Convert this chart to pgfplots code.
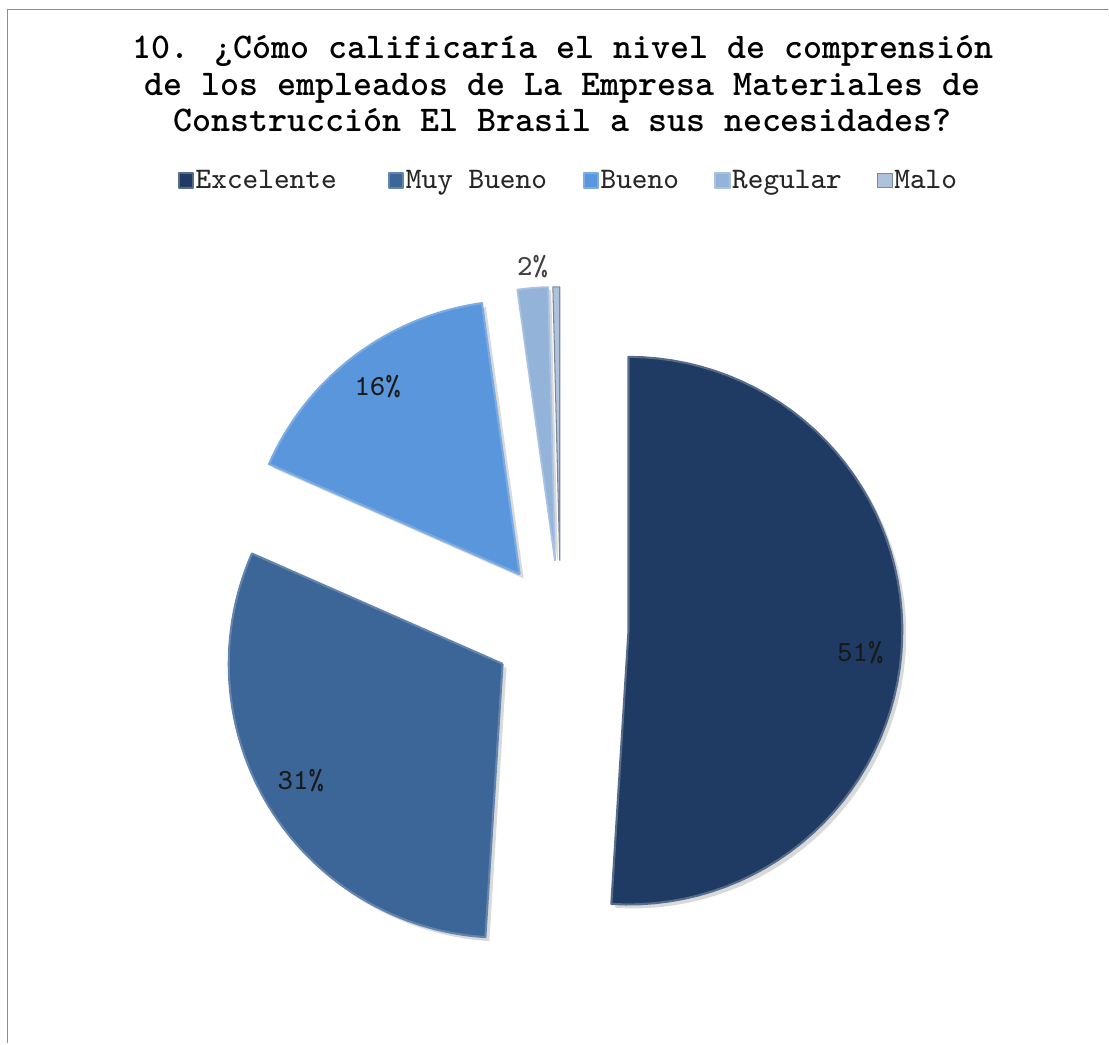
\documentclass[border=0pt]{standalone}
\usepackage{pgfplots}
\pgfplotsset{compat=1.18}
\usepackage{fontspec}
\definecolor{cExc}{HTML}{1F3B63}
\definecolor{cMB}{HTML}{3C6598}
\definecolor{cBue}{HTML}{5A96DC}
\definecolor{cReg}{HTML}{94B3D9}
\definecolor{cMalo}{HTML}{AFC2DC}
% data (percent)
\def\vExc{51.0}
\def\vMB{30.6}
\def\vBue{16.2}
\def\vReg{1.8}
\def\vMalo{0.4}
\pgfmathsetmacro\aA{0}
\pgfmathsetmacro\aB{\aA+3.6*\vExc}
\pgfmathsetmacro\aC{\aB+3.6*\vMB}
\pgfmathsetmacro\aD{\aC+3.6*\vBue}
\pgfmathsetmacro\aE{\aD+3.6*\vReg}
\pgfmathsetmacro\aF{\aE+3.6*\vMalo}
\newcommand\lblfont{\ttfamily\fontsize{8.3}{9}\selectfont}
\begin{document}
\begin{tikzpicture}
\begin{axis}[
  scale only axis, width=110.9mm, height=104.4mm,
  xmin=0, xmax=1109, ymin=0, ymax=1044, y dir=reverse,
  hide axis, clip=false,
  declare function={
    th(\t,\s,\e)=\s+(min(max(\t,1),61)-1)*(\e-\s)/60;
    rr(\t)=274*(\t>0.5)*(\t<61.5);
    px(\t,\s,\e,\o)=561+\o+68*sin((\s+\e)/2)+rr(\t)*sin(th(\t,\s,\e));
    py(\t,\s,\e,\o)=629+\o-68*cos((\s+\e)/2)-rr(\t)*cos(th(\t,\s,\e));
  },
  legend columns=5,
  legend style={at={(axis cs:568.5,182)}, anchor=center, draw=none, fill=none,
    font=\ttfamily\fontsize{8.5}{9}\selectfont, text=black!85,
    /tikz/every even column/.append style={column sep=3.4mm},
    inner sep=0pt, nodes={inner sep=0.15mm}},
  legend image code/.code={\fill[#1] (0mm,-0.6mm) rectangle (1.45mm,0.85mm);},
]
\path (axis cs:0,0) rectangle (axis cs:1109,1044);
% shadows
\addplot[forget plot, mark=none, draw=none, fill=black, fill opacity=0.15, domain=0:62, samples=63, variable=\t] ({px(\t,\aA,\aB,4)},{py(\t,\aA,\aB,4)});
\addplot[forget plot, mark=none, draw=none, fill=black, fill opacity=0.15, domain=0:62, samples=63, variable=\t] ({px(\t,\aB,\aC,4)},{py(\t,\aB,\aC,4)});
\addplot[forget plot, mark=none, draw=none, fill=black, fill opacity=0.15, domain=0:62, samples=63, variable=\t] ({px(\t,\aC,\aD,4)},{py(\t,\aC,\aD,4)});
\addplot[forget plot, mark=none, draw=none, fill=black, fill opacity=0.15, domain=0:62, samples=63, variable=\t] ({px(\t,\aD,\aE,3)},{py(\t,\aD,\aE,3)});
% slices
\addplot[mark=none, fill=cExc, draw=cExc!75!white, line width=0.6pt, line join=round, domain=0:62, samples=63, variable=\t] ({px(\t,\aA,\aB,0)},{py(\t,\aA,\aB,0)});
\addplot[mark=none, fill=cMB, draw=cMB!80!white, line width=0.6pt, line join=round, domain=0:62, samples=63, variable=\t] ({px(\t,\aB,\aC,0)},{py(\t,\aB,\aC,0)});
\addplot[mark=none, fill=cBue, draw=cBue!80!white, line width=0.6pt, line join=round, domain=0:62, samples=63, variable=\t] ({px(\t,\aC,\aD,0)},{py(\t,\aC,\aD,0)});
\addplot[mark=none, fill=cReg, draw=cReg!80!white, line width=0.5pt, line join=round, domain=0:62, samples=63, variable=\t] ({px(\t,\aD,\aE,0)},{py(\t,\aD,\aE,0)});
\addplot[mark=none, fill=cMalo, draw=cMalo!70!black, line width=0.3pt, line join=round, domain=0:62, samples=63, variable=\t] ({px(\t,\aE,\aF,0)},{py(\t,\aE,\aF,0)});
\legend{Excelente\phantom{x},Muy Bueno,Bueno,Regular,Malo}
% data labels
\node[font=\lblfont, text=black!90] at (axis cs:861,653) {51\%};
\node[font=\lblfont, text=black!90] at (axis cs:301,781) {31\%};
\node[font=\lblfont, text=black!90] at (axis cs:378,387) {16\%};
\node[font=\lblfont, text=black!75] at (axis cs:533,267) {2\%};
% title
\node[font=\ttfamily\bfseries\fontsize{10.3}{10.4}\selectfont, align=center] at (axis cs:563,84)
  {10. ¿Cómo calificaría el nivel de comprensión\\de los empleados de La Empresa Materiales de\\Construcción El Brasil a sus necesidades?};
% frame
\draw[color=black!45, line width=0.45pt] (axis cs:7.5,1044) -- (axis cs:7.5,9.5) -- (axis cs:1109,9.5);
\end{axis}
\end{tikzpicture}
\end{document}
